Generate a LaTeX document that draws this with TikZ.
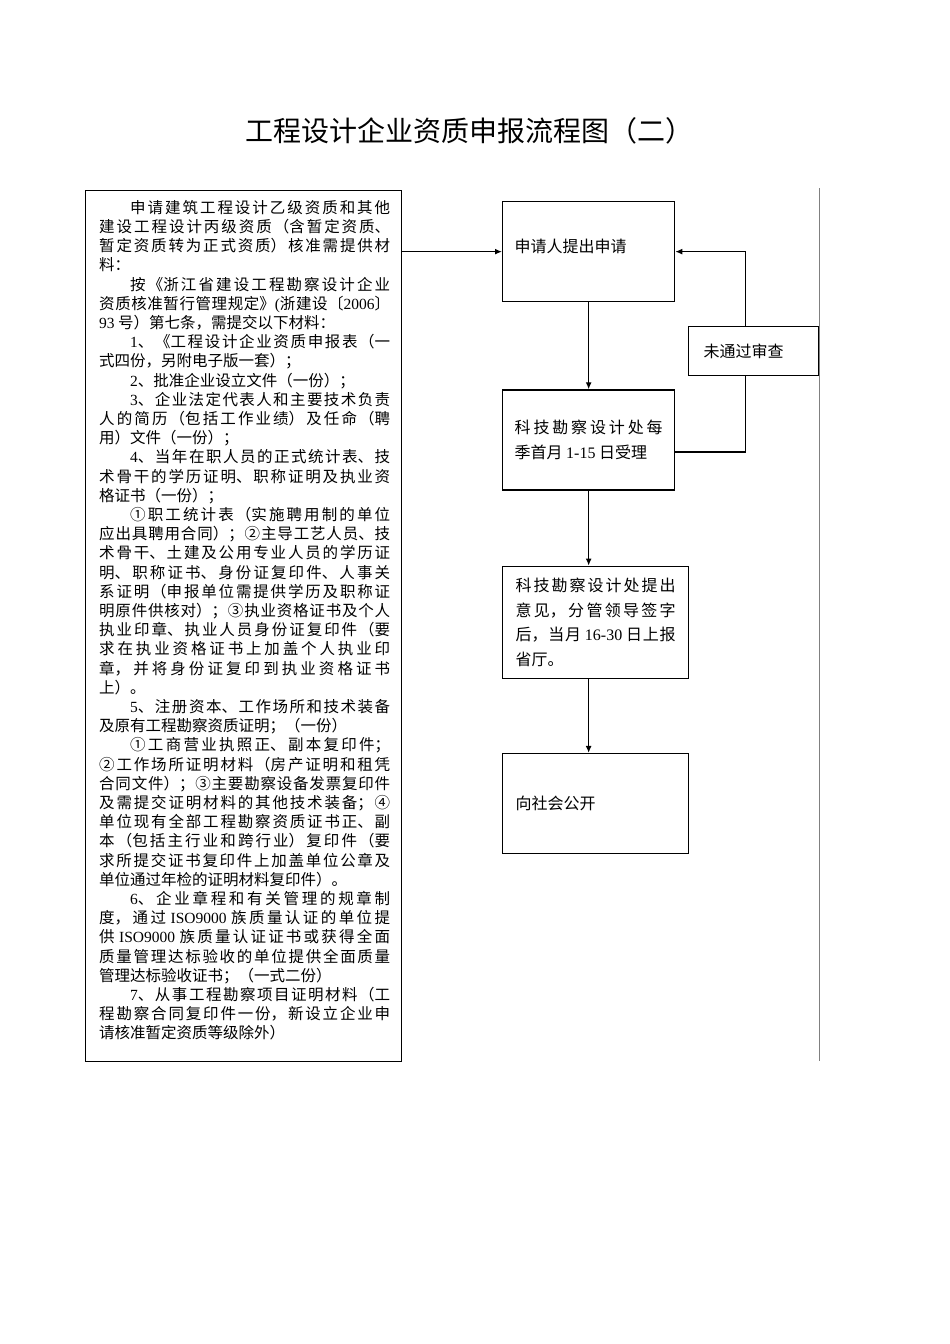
\documentclass[tikz,border=0pt]{standalone}
\usepackage{fontspec}
\setmainfont{Noto Sans CJK SC}
\newfontfamily\latinfont{Liberation Serif}
\usepackage{tikz}
\usetikzlibrary{arrows.meta,positioning}
\XeTeXlinebreaklocale "zh"
\XeTeXlinebreakskip=0pt plus 4pt minus 0.5pt
\newcommand{\nm}[1]{{\latinfont #1}}

\begin{document}
\begin{tikzpicture}[x=1pt, y=-1pt, >={Latex[length=7pt,width=6pt]},
  every node/.style={font=\fontsize{16}{24.5}\selectfont, inner sep=0pt},
  flowbox/.style={draw, line width=1.3pt, align=justify, text width=148pt, minimum width=172pt, minimum height=100pt},
  flow/.style={line width=1.3pt}]
\useasboundingbox (0,0) rectangle (950,1344);
\node[font=\fontsize{28}{34}\selectfont] (title) at (469,131) {工程设计企业资质申报流程图（二）};
% materials list
\node[draw, line width=1.3pt, minimum width=316pt, minimum height=871pt, anchor=north west] (mat) at (85,190) {};
\node[anchor=north west, text width=291pt, align=justify, font=\fontsize{15.5}{19.2}\selectfont] (mattext) at (99,200) {%
\hspace*{2em}申请建筑工程设计乙级资质和其他\linebreak
建设工程设计丙级资质（含暂定资质、\linebreak
暂定资质转为正式资质）核准需提供材\linebreak
料：\par
\hspace*{2em}按《浙江省建设工程勘察设计企业\linebreak
资质核准暂行管理规定》\nm{(}浙建设〔\nm{2006}〕\linebreak
\nm{93} 号）第七条，需提交以下材料：\par
\hspace*{2em}\nm{1}、《工程设计企业资质申报表（一\linebreak
式四份，另附电子版一套）；\par
\hspace*{2em}\nm{2}、批准企业设立文件（一份）；\par
\hspace*{2em}\nm{3}、企业法定代表人和主要技术负责\linebreak
人的简历（包括工作业绩）及任命（聘\linebreak
用）文件（一份）；\par
\hspace*{2em}\nm{4}、当年在职人员的正式统计表、技\linebreak
术骨干的学历证明、职称证明及执业资\linebreak
格证书（一份）；\par
\hspace*{2em}①职工统计表（实施聘用制的单位\linebreak
应出具聘用合同）；②主导工艺人员、技\linebreak
术骨干、土建及公用专业人员的学历证\linebreak
明、职称证书、身份证复印件、人事关\linebreak
系证明（申报单位需提供学历及职称证\linebreak
明原件供核对）；③执业资格证书及个人\linebreak
执业印章、执业人员身份证复印件（要\linebreak
求在执业资格证书上加盖个人执业印\linebreak
章，并将身份证复印到执业资格证书\linebreak
上）。\par
\hspace*{2em}\nm{5}、注册资本、工作场所和技术装备\linebreak
及原有工程勘察资质证明；（一份）\par
\hspace*{2em}①工商营业执照正、副本复印件；\linebreak
②工作场所证明材料（房产证明和租凭\linebreak
合同文件）；③主要勘察设备发票复印件\linebreak
及需提交证明材料的其他技术装备；④\linebreak
单位现有全部工程勘察资质证书正、副\linebreak
本（包括主行业和跨行业）复印件（要\linebreak
求所提交证书复印件上加盖单位公章及\linebreak
单位通过年检的证明材料复印件）。\par
\hspace*{2em}\nm{6}、企业章程和有关管理的规章制\linebreak
度，通过 \nm{ISO9000} 族质量认证的单位提\linebreak
供 \nm{ISO9000} 族质量认证证书或获得全面\linebreak
质量管理达标验收的单位提供全面质量\linebreak
管理达标验收证书；（一式二份）\par
\hspace*{2em}\nm{7}、从事工程勘察项目证明材料（工\linebreak
程勘察合同复印件一份，新设立企业申\linebreak
请核准暂定资质等级除外）};
% flow chart
\node[flowbox, text depth=12pt, anchor=north west] (apply) at (502,201) {申请人提出申请};
\node[flowbox, below=87pt of apply] (accept) {科技勘察设计处每\linebreak 季首月 \nm{1-15} 日受理};
\node[flowbox, text width=160pt, minimum width=186pt, minimum height=112pt, below=75pt of accept.south west, anchor=north west] (report) {科技勘察设计处提出意见，分管领导签字后，当月 \nm{16-30} 日上报省厅。};
\node[flowbox, text width=160pt, minimum width=186pt, below=74pt of report] (public) {向社会公开};
\node[flowbox, text width=100pt, minimum width=130pt, minimum height=49pt, anchor=north west] (fail) at (688,326) {未通过审查};
\draw[flow,->] (mat.east |- apply.west) -- (apply.west);
\draw[flow,->] (apply) -- (accept);
\draw[flow,->] (accept.south) -- (accept.south |- report.north);
\draw[flow,->] (accept.south |- report.south) -- (accept.south |- public.north);
\draw[flow] ([yshift=-12pt]accept.east) -| ([xshift=-8pt]fail.south);
\draw[flow,->] ([xshift=-8pt]fail.north) |- (apply.east);
\draw[gray, line width=1pt] (819,188) -- (819,1061);
\end{tikzpicture}
\end{document}
